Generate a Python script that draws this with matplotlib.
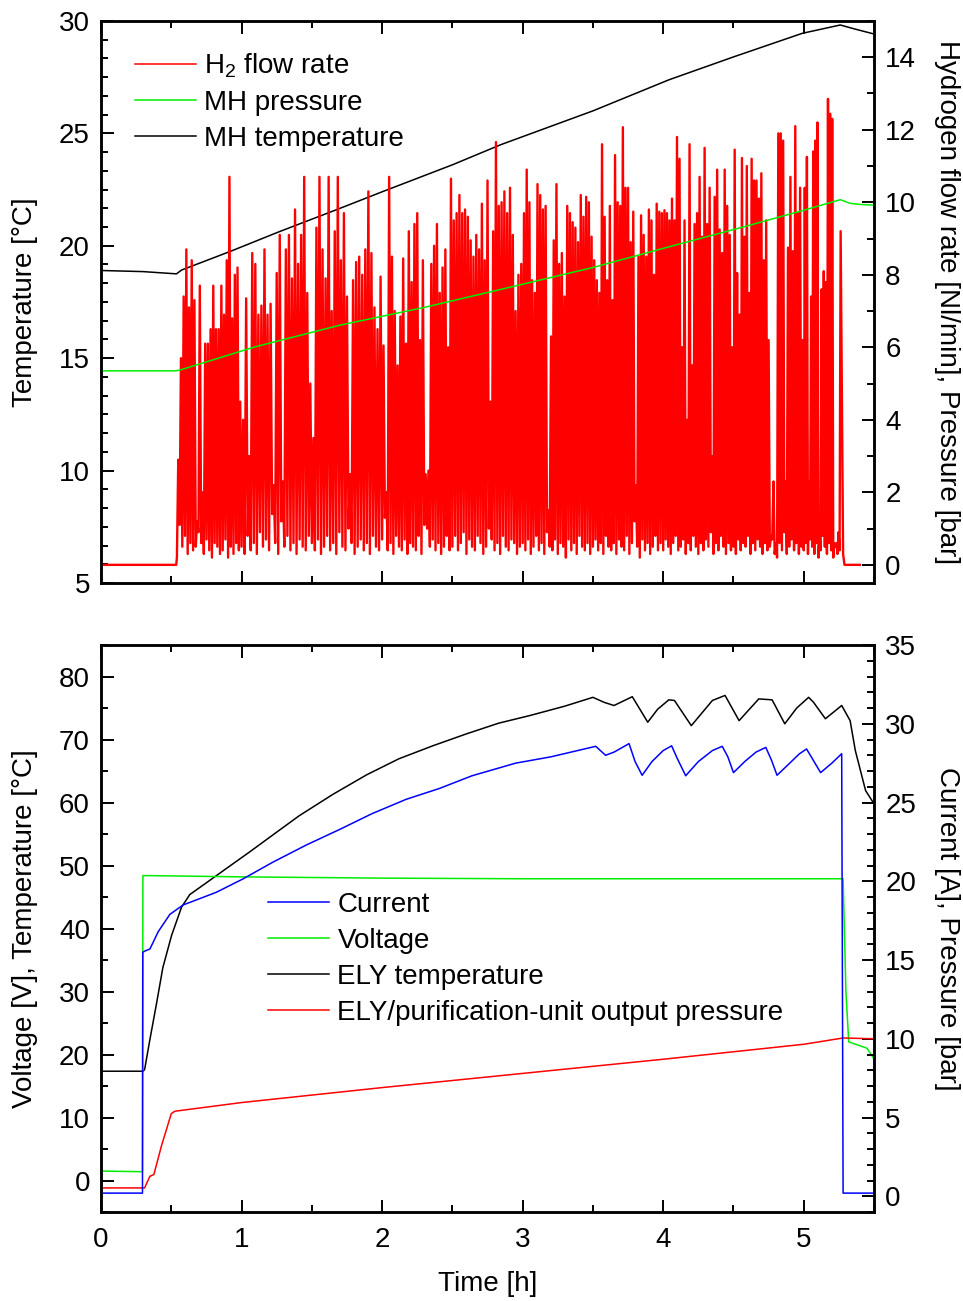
import numpy as np
import matplotlib.pyplot as plt
from matplotlib.ticker import MultipleLocator, AutoMinorLocator

plt.rcParams['font.family'] = ['Liberation Sans', 'DejaVu Sans']
plt.rcParams['mathtext.fontset'] = 'custom'
plt.rcParams['mathtext.rm'] = 'Liberation Sans'
plt.rcParams['mathtext.it'] = 'Liberation Sans:italic'
plt.rcParams['font.size'] = 20

# ---------------- top panel: metal hydride ----------------
mh_temp_t = [0, 0.30, 0.537, 0.573, 0.916, 1.27, 1.674, 2.0, 2.5, 2.846, 3.5, 4.04, 4.5, 4.99, 5.26, 5.37, 5.5]
mh_temp = [18.9, 18.85, 18.75, 18.92, 19.74, 20.63, 21.6, 22.4, 23.6, 24.5, 26.0, 27.38, 28.4, 29.45, 29.82, 29.63, 29.42]

mh_p_t = [0, 0.53, 0.56, 1.094, 1.70, 2.3, 2.87, 3.5, 4.04, 4.6, 5.0, 5.26, 5.33, 5.40, 5.5]
mh_p = [5.35, 5.35, 5.37, 6.01, 6.61, 7.1, 7.62, 8.2, 8.77, 9.35, 9.78, 10.07, 9.97, 9.94, 9.92]

# H2 flow rate spikes, read per half hour: peaks and the lows before them
a_peak = [2.9, 5.7, 7.4, 8.7, 7.1, 8.4, 7.3, 1.2, 7.7, 2.0, 6.1, 6.1, 6.5, 7.7, 6.5, 6.5, 7.7, 6.9, 8.4, 10.7, 6.8, 8.0, 8.2, 4.5]
a_low = [0.2, 1.1, 0.5, 0.8, 0.3, 0.6, 0.4, 0.5, 0.9, 0.6, 0.3, 0.7, 0.4, 0.2, 0.6, 0.5, 0.3, 0.4, 0.7, 0.2, 0.5, 0.3, 0.6, 0.4]
b_peak = [4.0, 7.35, 3.0, 8.6, 8.3, 6.9, 7.15, 8.7, 6.9, 7.2, 2.2, 8.05, 9.1, 2.3, 8.7, 9.1, 7.9, 9.8, 8.3, 9.1, 10.7, 7.5, 5.0]
b_low = [0.5, 0.3, 0.8, 0.4, 0.6, 0.3, 0.9, 0.5, 0.7, 0.4, 1.4, 0.6, 0.3, 1.2, 0.5, 0.8, 0.4, 0.6, 0.3, 0.7, 0.5, 0.4, 0.8]
c_peak = [3.5, 9.3, 10.7, 8.7, 7.9, 10.7, 7.0, 9.2, 10.7, 8.4, 9.7, 7.4, 2.5, 7.85, 8.35, 8.5, 8.0, 8.7, 10.3, 8.6, 7.1, 6.5, 7.95]
c_low = [0.6, 0.4, 0.7, 0.3, 0.5, 0.8, 0.4, 0.6, 0.3, 0.9, 0.5, 0.4, 1.0, 0.6, 0.3, 0.5, 0.7, 0.4, 0.6, 0.3, 0.8, 0.5, 0.4]
d_peak = [6.05, 2.0, 10.7, 8.5, 7.0, 5.5, 6.85, 8.45, 6.1, 9.2, 7.8, 9.4, 9.7, 6.2, 8.4, 2.5, 2.6, 8.3, 8.8, 9.4, 7.5, 8.2, 8.7, 6.0, 10.65]
d_low = [0.7, 1.3, 0.4, 0.6, 0.3, 0.8, 0.5, 0.4, 0.7, 0.3, 0.6, 0.5, 0.4, 0.8, 0.3, 1.1, 1.0, 0.5, 0.7, 0.4, 0.6, 0.3, 0.5, 0.8, 0.4]
e_peak = [9.5, 9.7, 10.2, 9.7, 9.8, 9.6, 8.95, 8.5, 9.1, 8.7, 9.96, 8.4, 10.6, 4.5, 9.2, 11.66, 9.9, 10.0, 10.3, 9.7, 10.4, 9.1, 7.0, 8.0, 8.3]
e_low = [0.5, 0.8, 0.4, 0.6, 0.9, 0.3, 0.7, 0.5, 0.4, 0.8, 0.6, 0.3, 0.5, 1.0, 0.7, 0.4, 0.6, 0.3, 0.8, 0.5, 0.4, 0.7, 0.6, 0.3, 0.5]
f_peak = [9.7, 10.9, 10.0, 7.85, 7.5, 10.5, 10.2, 9.8, 9.9, 1.5, 6.3, 8.95, 10.5, 8.3, 8.6, 7.4, 9.9, 9.7, 9.45, 9.3, 8.9, 10.2, 9.6, 10.15, 10.0, 9.05]
f_low = [0.6, 0.4, 0.7, 0.3, 0.5, 0.8, 0.4, 0.6, 0.3, 0.9, 0.5, 0.4, 0.7, 0.3, 0.6, 0.5, 0.2, 0.7, 0.4, 0.6, 0.3, 0.8, 0.5, 0.4, 0.6, 0.3]
g_peak = [8.4, 7.85, 7.5, 11.6, 9.6, 7.85, 9.9, 7.3, 11.3, 10.0, 9.9, 12.07, 10.4, 10.4, 8.9, 9.74, 2.2, 8.5, 9.64, 9.1, 8.5, 9.8, 9.5, 8.0, 9.96, 9.74, 9.7]
g_low = [0.5, 0.7, 0.4, 0.6, 0.3, 0.8, 0.5, 0.4, 0.6, 0.3, 0.7, 0.5, 0.4, 0.8, 0.3, 0.6, 1.2, 0.5, 0.2, 0.7, 0.4, 0.6, 0.3, 0.5, 0.8, 0.4, 0.6]
h_peak = [9.78, 9.7, 9.5, 10.1, 9.5, 11.8, 11.2, 6.0, 9.5, 4.0, 11.6, 5.5, 9.4, 9.7, 10.7, 9.05, 11.5, 9.4, 10.4, 3.0, 10.15, 10.9, 9.25, 8.6, 10.9, 9.9, 9.1, 6.0]
h_low = [0.4, 0.7, 0.5, 0.3, 0.6, 0.8, 0.4, 0.5, 0.7, 0.3, 0.6, 0.4, 0.8, 0.5, 0.3, 0.6, 0.4, 0.7, 0.5, 0.9, 0.3, 0.6, 0.4, 0.8, 0.5, 0.3, 0.6, 0.4]
i_peak = [11.45, 8.05, 6.9, 11.22, 9.05, 11.0, 7.5, 11.2, 10.6, 10.6, 10.1, 10.8, 8.4, 9.5, 6.2, 0.8, 2.3, 0.6, 11.9, 11.9, 11.7, 2.3, 8.75, 10.7, 8.65, 12.1, 9.7, 10.4, 6.2]
i_low = [0.5, 0.3, 0.7, 0.4, 0.6, 0.5, 0.8, 0.3, 0.6, 0.4, 0.7, 0.5, 0.3, 0.6, 0.4, 0.5, 0.7, 0.3, 0.2, 0.6, 0.4, 0.9, 0.3, 0.5, 0.7, 0.4, 0.6, 0.3, 0.5]
j_peak = [10.4, 11.25, 2.3, 7.4, 11.4, 11.7, 12.2, 0.8, 7.6, 8.1, 7.8, 12.85, 12.44, 12.3, 0.6, 0.6, 0.9, 9.2]
j_low = [0.4, 0.6, 0.3, 0.7, 0.5, 0.3, 0.6, 0.2, 0.4, 0.8, 0.5, 0.3, 0.6, 0.4, 0.2, 0.5, 0.3, 0.4]

seg_edges = [0.54, 1.0, 1.5, 2.0, 2.5, 3.0, 3.5, 4.0, 4.5, 5.0, 5.27]

# ---------------- bottom panel: electrolyser ----------------
cur_t = [0, 0.295, 0.297, 0.32, 0.348, 0.407, 0.49, 0.585, 0.703, 0.82, 1.01, 1.22, 1.46, 1.70, 1.93, 2.17,
         2.41, 2.64, 2.95, 3.2, 3.52, 3.59, 3.65, 3.757, 3.80, 3.85, 3.92, 4.0, 4.06, 4.10, 4.16, 4.25, 4.35,
         4.42, 4.46, 4.50, 4.58, 4.66, 4.73, 4.77, 4.81, 4.90, 4.97, 5.02, 5.06, 5.12, 5.20, 5.27, 5.28, 5.5]
current = [0.2, 0.2, 15.5, 15.6, 15.7, 16.8, 17.9, 18.5, 18.9, 19.3, 20.15, 21.2, 22.3, 23.3, 24.3, 25.2,
           25.9, 26.7, 27.5, 27.9, 28.57, 28.0, 28.2, 28.74, 27.6, 26.73, 27.6, 28.3, 28.6, 27.8, 26.7, 27.6, 28.3,
           28.57, 27.9, 26.9, 27.6, 28.2, 28.5, 27.7, 26.73, 27.5, 28.1, 28.4, 27.8, 26.9, 27.5, 28.1, 0.2, 0.2]

ely_t = [0, 0.30, 0.31, 0.348, 0.395, 0.44, 0.502, 0.573, 0.632, 0.727, 0.89, 1.06, 1.25, 1.41, 1.65, 1.89,
         2.12, 2.36, 2.6, 2.83, 3.05, 3.3, 3.50, 3.58, 3.65, 3.78, 3.89, 3.96, 4.04, 4.08, 4.20, 4.35, 4.44,
         4.54, 4.68, 4.775, 4.865, 4.95, 5.035, 5.07, 5.154, 5.27, 5.33, 5.367, 5.44, 5.5]
ely_temp = [17.35, 17.35, 17.6, 22.4, 28.1, 33.8, 38.9, 43.4, 45.4, 46.9, 49.5, 52.2, 55.3, 57.9, 61.3, 64.4,
            66.95, 69.0, 70.9, 72.6, 73.8, 75.3, 76.7, 75.9, 75.4, 76.8, 72.75, 74.8, 76.3, 76.2, 72.2, 76.2, 77.0,
            73.0, 76.45, 76.3, 72.5, 75.0, 76.7, 75.9, 73.3, 75.4, 73.0, 68.25, 61.9, 59.8]

volt_t = [0, 0.295, 0.298, 0.33, 1.0, 2.0, 3.0, 4.0, 5.0, 5.28, 5.30, 5.32, 5.45, 5.5]
voltage = [1.5, 1.4, 48.4, 48.4, 48.2, 48.0, 47.9, 47.9, 47.9, 47.9, 30.0, 22.0, 21.0, 19.3]

pres_t = [0, 0.31, 0.348, 0.376, 0.43, 0.50, 0.526, 1.0, 2.0, 3.0, 4.0, 5.0, 5.28, 5.5]
pressure = [0.53, 0.53, 1.27, 1.38, 3.2, 5.25, 5.4, 5.95, 6.9, 7.8, 8.7, 9.65, 10.05, 10.0]

# build the flow rate trace
peaks = [a_peak, b_peak, c_peak, d_peak, e_peak, f_peak, g_peak, h_peak, i_peak, j_peak]
lows = [a_low, b_low, c_low, d_low, e_low, f_low, g_low, h_low, i_low, j_low]
flow_t = [0.0, 0.535]
flow = [0.0, 0.0]
for k in range(len(peaks)):
    n = len(peaks[k])
    tt = np.linspace(seg_edges[k], seg_edges[k + 1], 2 * n, endpoint=False)
    for m in range(n):
        flow_t += [tt[2 * m], tt[2 * m + 1]]
        flow += [lows[k][m], peaks[k][m]]
flow_t += [5.28, 5.29, 5.40]
flow += [0.3, 0.0, 0.0]

RED = '#ff0000'
GREEN = '#00ee00'
BLUE = '#0000ff'
LW = 1.1
FS = 20


def style(ax):
    ax.tick_params(which='both', direction='in', width=1.4, labelsize=FS)
    ax.tick_params(which='major', length=9, pad=8)
    ax.tick_params(which='minor', length=5)
    for s in ax.spines.values():
        s.set_linewidth(1.8)


fig = plt.figure(figsize=(9.63, 13.01), dpi=100)
ax1 = fig.add_axes([0.1049, 0.5519, 0.8027, 0.432])
ax2 = fig.add_axes([0.1049, 0.0684, 0.8027, 0.4358])

# top
l_temp, = ax1.plot(mh_temp_t, mh_temp, color='black', lw=LW, label='MH temperature')
ax1r = ax1.twinx()
l_flow, = ax1r.plot(flow_t, flow, color=RED, lw=1.7, label='H$_2$ flow rate')
l_mhp, = ax1r.plot(mh_p_t, mh_p, color=GREEN, lw=LW, label='MH pressure')

ax1.set_xlim(0, 5.5)
ax1.set_ylim(5, 30)
ax1r.set_ylim(-0.5, 15)
ax1.xaxis.set_major_locator(MultipleLocator(1))
ax1.xaxis.set_minor_locator(MultipleLocator(0.5))
ax1.yaxis.set_major_locator(MultipleLocator(5))
ax1.yaxis.set_minor_locator(AutoMinorLocator(6))
ax1r.yaxis.set_minor_locator(MultipleLocator(1))
ax1r.set_yticks([0, 2, 4, 6, 8, 10, 12, 14])
for a in (ax1, ax1r):
    style(a)
ax1.tick_params(axis='x', which='both', top=True, labelbottom=False)
ax1.tick_params(axis='y', which='both', right=False)
ax1r.tick_params(axis='y', which='both', left=False, right=True)
ax1.set_ylabel('Temperature [°C]', fontsize=FS)
ax1.yaxis.set_label_coords(-0.081, 0.5)
ax1r.set_ylabel('Hydrogen flow rate [Nl/min], Pressure [bar]', fontsize=FS, rotation=270, va='bottom')
ax1r.yaxis.set_label_coords(1.077, 0.5)
ax1r.legend([l_flow, l_mhp, l_temp], [l_flow.get_label(), l_mhp.get_label(), l_temp.get_label()],
            loc='upper left', bbox_to_anchor=(0.044, 0.946), frameon=False, fontsize=FS,
            handlelength=2.2, handletextpad=0.3, labelspacing=0.36, borderpad=0, borderaxespad=0)
for h in ax1r.get_legend().legend_handles:
    h.set_linewidth(LW)

# bottom
l_ely, = ax2.plot(ely_t, ely_temp, color='black', lw=LW, label='ELY temperature')
l_volt, = ax2.plot(volt_t, voltage, color=GREEN, lw=LW, label='Voltage')
ax2r = ax2.twinx()
l_pres, = ax2r.plot(pres_t, pressure, color=RED, lw=LW, label='ELY/purification-unit output pressure')
l_cur, = ax2r.plot(cur_t, current, color=BLUE, lw=LW, label='Current')

ax2.set_xlim(0, 5.5)
ax2.set_ylim(-5, 85)
ax2r.set_ylim(-1.0, 35)
ax2.xaxis.set_major_locator(MultipleLocator(1))
ax2.xaxis.set_minor_locator(MultipleLocator(0.5))
ax2.yaxis.set_minor_locator(MultipleLocator(5))
ax2r.yaxis.set_minor_locator(MultipleLocator(1))
ax2.set_yticks(range(0, 90, 10))
ax2r.set_yticks(range(0, 40, 5))
for a in (ax2, ax2r):
    style(a)
ax2.tick_params(axis='x', which='both', top=True)
ax2.tick_params(axis='x', which='major', pad=11)
ax2.tick_params(axis='y', which='both', right=False)
ax2r.tick_params(axis='y', which='both', left=False, right=True)
ax2.set_xlabel('Time [h]', fontsize=FS)
ax2.xaxis.set_label_coords(0.5, -0.104)
ax2.set_ylabel('Voltage [V], Temperature [°C]', fontsize=FS)
ax2.yaxis.set_label_coords(-0.081, 0.5)
ax2r.set_ylabel('Current [A], Pressure [bar]', fontsize=FS, rotation=270, va='bottom')
ax2r.yaxis.set_label_coords(1.077, 0.5)
ax2r.legend([l_cur, l_volt, l_ely, l_pres],
            [l_cur.get_label(), l_volt.get_label(), l_ely.get_label(), l_pres.get_label()],
            loc='upper left', bbox_to_anchor=(0.216, 0.565), frameon=False, fontsize=FS,
            handlelength=2.2, handletextpad=0.3, labelspacing=0.36, borderpad=0, borderaxespad=0)

fig.savefig('out.png', dpi=100)
